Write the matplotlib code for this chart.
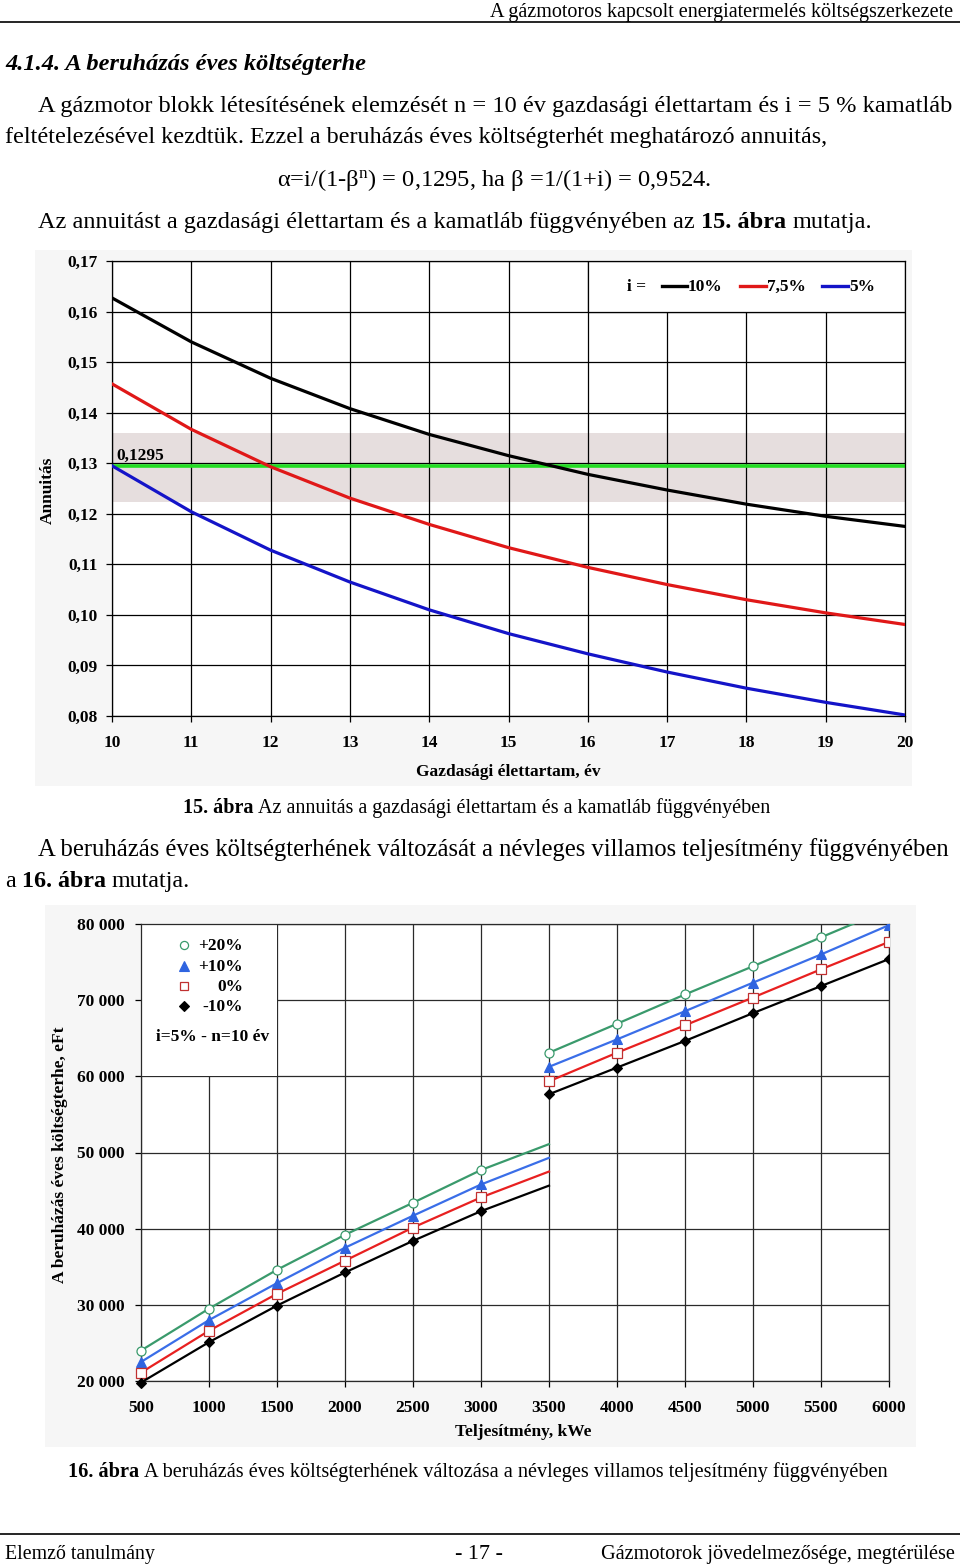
import matplotlib
matplotlib.use('Agg')
import matplotlib.pyplot as plt
from matplotlib.patches import Rectangle
from matplotlib.lines import Line2D

W, H = 960, 1565
SERIF = 'Liberation Serif'
plt.rcParams['font.family'] = [SERIF, 'DejaVu Serif']
plt.rcParams['mathtext.fontset'] = 'custom'
plt.rcParams['mathtext.rm'] = SERIF
plt.rcParams['mathtext.it'] = SERIF + ':italic'

# ---------------- data: chart 15 (annuity) ----------------
years = [10, 11, 12, 13, 14, 15, 16, 17, 18, 19, 20]
ann_10 = [0.1627, 0.1540, 0.1468, 0.1408, 0.1357, 0.1315, 0.1278, 0.1247, 0.1219, 0.1195, 0.1175]
ann_75 = [0.1457, 0.1367, 0.1293, 0.1231, 0.1179, 0.1133, 0.1094, 0.1060, 0.1030, 0.1004, 0.0981]
ann_5 = [0.1295, 0.1204, 0.1128, 0.1065, 0.1010, 0.0963, 0.0923, 0.0887, 0.0855, 0.0827, 0.0802]
ref_value = 0.1295
ref_label = '0,1295'
band_low, band_high = 0.1223, 0.1360
ann_yticks = [0.08, 0.09, 0.10, 0.11, 0.12, 0.13, 0.14, 0.15, 0.16, 0.17]
ann_yticklabels = ['0,08', '0,09', '0,10', '0,11', '0,12', '0,13', '0,14', '0,15', '0,16', '0,17']
legend1_title = 'i ='
legend1_labels = ['10%', '7,5%', '5%']

# ---------------- data: chart 16 (annual cost) ----------------
power_low = [500, 1000, 1500, 2000, 2500, 3000, 3500]
power_high = [3500, 4000, 4500, 5000, 5500, 6000]
p20_low = [24000, 29500, 34600, 39200, 43400, 47700, 51100]
p10_low = [22500, 28000, 32850, 37500, 41700, 45800, 49300]
p0_low = [21100, 26600, 31450, 35800, 40150, 44100, 47500]
m10_low = [19800, 25100, 29900, 34250, 38400, 42300, 45650]
p20_high = [63100, 66900, 70750, 74450, 78250, 82000]
p10_high = [61250, 64850, 68550, 72300, 76000, 79850]
p0_high = [59350, 63100, 66700, 70350, 74050, 77650]
m10_high = [57650, 61150, 64650, 68300, 71850, 75400]
cost_xticks = [500, 1000, 1500, 2000, 2500, 3000, 3500, 4000, 4500, 5000, 5500, 6000]
cost_yticks = [20000, 30000, 40000, 50000, 60000, 70000, 80000]
cost_yticklabels = ['20 000', '30 000', '40 000', '50 000', '60 000', '70 000', '80 000']
legend2_labels = ['+20%', '+10%', '0%', '-10%']
legend2_note = 'i=5% - n=10 év'

CH_FS = 12.5

fig = plt.figure(figsize=(W / 100, H / 100), dpi=100)
fig.patch.set_facecolor('white')
renderer = fig.canvas.get_renderer()


def rect(l, t, r, b):
    return [l / W, 1 - b / H, (r - l) / W, (b - t) / H]


def fx(x):
    return x / W


def fy(y):
    return 1 - y / H


def text_runs(x, y, runs, size=15, ha='left', width=None, style='normal'):
    arts = []
    for s, w in runs:
        arts.append(fig.text(0, fy(y), s, fontsize=size, fontweight=w, fontstyle=style,
                             va='baseline', ha='left'))

    def measure():
        ws = [a.get_window_extent(renderer).width for a in arts]
        sz = arts[0].get_fontsize()
        t1 = fig.text(0, 0, 'x x', fontsize=sz, fontweight=runs[0][1], fontstyle=style)
        t2 = fig.text(0, 0, 'xx', fontsize=sz, fontweight=runs[0][1], fontstyle=style)
        sp = t1.get_window_extent(renderer).width - t2.get_window_extent(renderer).width
        t1.remove(); t2.remove()
        return ws, sp

    ws, sp = measure()
    total = sum(ws) + sp * (len(arts) - 1)
    if width is not None:
        sc = width / total
        for a in arts:
            a.set_fontsize(a.get_fontsize() * sc)
        ws, sp = measure()
        total = sum(ws) + sp * (len(arts) - 1)
    if ha == 'center':
        x0 = x - total / 2
    elif ha == 'right':
        x0 = x - total
    else:
        x0 = x
    cur = x0
    for a, w in zip(arts, ws):
        a.set_x(fx(cur))
        cur += w + sp
    return arts


# ---------------- page text ----------------
text_runs(953, 17, [('A gázmotoros kapcsolt energiatermelés költségszerkezete', 'normal')], ha='right', width=466)
fig.add_artist(Line2D([0, 1], [fy(21.5), fy(21.5)], color='black', lw=1.2))
text_runs(5, 70, [('4.1.4. A beruházás éves költségterhe', 'bold')], width=362, style='italic')
text_runs(38, 112, [('A gázmotor blokk létesítésének elemzését n = 10 év gazdasági élettartam és i = 5 % kamatláb', 'normal')], width=915)
text_runs(5, 143, [('feltételezésével kezdtük. Ezzel a beruházás éves költségterhét meghatározó annuitás,', 'normal')], width=825)
text_runs(277, 186, [(r'α=i/(1-β$^{\rm n}$) = 0,1295, ha β =1/(1+i) = 0,9524.', 'normal')], width=435)
text_runs(38, 228, [('Az annuitást a gazdasági élettartam és a kamatláb függvényében az', 'normal'),
                    ('15. ábra', 'bold'), ('mutatja.', 'normal')], width=832)
text_runs(183, 813, [('15. ábra', 'bold'), ('Az annuitás a gazdasági élettartam és a kamatláb függvényében', 'normal')], width=593)
text_runs(38, 856, [('A beruházás éves költségterhének változását a névleges villamos teljesítmény függvényében', 'normal')], width=915)
text_runs(5, 887, [('a', 'normal'), ('16. ábra', 'bold'), ('mutatja.', 'normal')], width=185)
text_runs(68, 1477, [('16. ábra', 'bold'), ('A beruházás éves költségterhének változása a névleges villamos teljesítmény függvényében', 'normal')], width=822)
fig.add_artist(Line2D([0, 1], [fy(1534), fy(1534)], color='black', lw=1.2))
text_runs(5, 1559, [('Elemző tanulmány', 'normal')], width=150)
text_runs(479, 1559, [('- 17 -', 'normal')], ha='center', width=48)
text_runs(955, 1559, [('Gázmotorok jövedelmezősége, megtérülése', 'normal')], ha='right', width=355)

# chart background panels
fig.add_artist(Rectangle((fx(35), fy(786)), (912 - 35) / W, (786 - 250) / H, transform=fig.transFigure,
                         facecolor='#f6f6f6', edgecolor='none', zorder=0))
fig.add_artist(Rectangle((fx(45), fy(1447)), (916 - 45) / W, (1447 - 905) / H, transform=fig.transFigure,
                         facecolor='#f6f6f6', edgecolor='none', zorder=0))

# ---------------- chart 15 ----------------
ax1 = fig.add_axes(rect(112, 261, 905, 716))
ax1.set_facecolor('white')
ax1.set_xlim(years[0], years[-1])
ax1.set_ylim(ann_yticks[0], ann_yticks[-1])
ax1.set_xticks(years)
ax1.set_xticklabels([str(v) for v in years])
ax1.set_yticks(ann_yticks)
ax1.set_yticklabels(ann_yticklabels)
ax1.set_axisbelow(True)
ax1.grid(True, color='black', lw=0.9)
for sp in ax1.spines.values():
    sp.set_color('black'); sp.set_linewidth(0.9)
ax1.tick_params(axis='both', length=4, width=0.9, direction='out', labelsize=CH_FS)
ax1.tick_params(axis='x', pad=10)
ax1.tick_params(axis='y', pad=6)
for lab in ax1.get_xticklabels() + ax1.get_yticklabels():
    lab.set_fontweight('bold')
ax1.axhspan(band_low, band_high, facecolor='#e6dede', edgecolor='none', zorder=0.2)
ax1.axhline(ref_value, color='#22dd22', lw=2.6, zorder=2.5)
ax1.plot(years, ann_10, color='black', lw=2.3, zorder=3)
ax1.plot(years, ann_75, color='#e01818', lw=2.3, zorder=3)
ax1.plot(years, ann_5, color='#1414c8', lw=2.3, zorder=3)
ax1.text(10.06, 0.1306, ref_label, fontsize=CH_FS, fontweight='bold', va='baseline', ha='left', zorder=4)
ax1.add_patch(Rectangle((16, 0.16), 4, 0.01, facecolor='white', edgecolor='black', lw=0.9, zorder=2))
ax1.set_xlabel('Gazdasági élettartam, év', fontsize=CH_FS, fontweight='bold')
ax1.xaxis.set_label_coords(0.5, -0.105)
ax1.set_ylabel('Annuitás', fontsize=CH_FS, fontweight='bold')
ax1.yaxis.set_label_coords(-0.071, 0.495)

# legend chart 15 (figure pixel coords)
fig.text(fx(627), fy(291), legend1_title, fontsize=CH_FS, fontweight='bold', va='baseline', ha='left')
leg_cols = ['black', '#e01818', '#1414c8']
leg_lines = [(662, 687), (740, 766), (822, 848)]
for (a, b), c, lab in zip(leg_lines, leg_cols, legend1_labels):
    fig.add_artist(Line2D([fx(a), fx(b)], [fy(286), fy(286)], color=c, lw=2.4))
    fig.text(fx(b + 1), fy(291), lab, fontsize=CH_FS, fontweight='bold', va='baseline', ha='left')

# ---------------- chart 16 ----------------
ax2 = fig.add_axes(rect(141, 924, 889, 1381))
ax2.set_facecolor('white')
ax2.set_xlim(cost_xticks[0], cost_xticks[-1])
ax2.set_ylim(cost_yticks[0], cost_yticks[-1])
ax2.set_xticks(cost_xticks)
ax2.set_xticklabels([str(v) for v in cost_xticks])
ax2.set_yticks(cost_yticks)
ax2.set_yticklabels(cost_yticklabels)
ax2.set_axisbelow(True)
ax2.grid(True, color='#2a2a2a', lw=0.9)
for sp in ax2.spines.values():
    sp.set_color('#2a2a2a'); sp.set_linewidth(0.9)
ax2.tick_params(axis='both', length=4, width=0.9, direction='out', labelsize=CH_FS)
ax2.tick_params(axis='x', pad=10)
ax2.tick_params(axis='y', pad=8)
for lab in ax2.get_xticklabels() + ax2.get_yticklabels():
    lab.set_fontweight('bold')
ax2.add_patch(Rectangle((500, 60000), 1000, 20000, facecolor='white', edgecolor='none', zorder=1))

styles = [
    dict(color='#3a9a6c', marker='o', mfc='white', mec='#3a9a6c', ms=6.5, mew=0.9),
    dict(color='#3a6ee8', marker='^', mfc='#2f64e0', mec='#2f64e0', ms=7.5, mew=0.8),
    dict(color='#e82020', marker='s', mfc='white', mec='#c03030', ms=6.5, mew=0.9),
    dict(color='black', marker='D', mfc='black', mec='black', ms=5.5, mew=0.8),
]
lows = [p20_low, p10_low, p0_low, m10_low]
highs = [p20_high, p10_high, p0_high, m10_high]
for lo, hi, st in zip(lows, highs, styles):
    ax2.plot(power_low, lo, lw=1.6, markevery=slice(0, 6), zorder=3, clip_on=False, **st)
    ax2.plot(power_high, hi, lw=1.6, zorder=3, **st)
ax2.set_xlabel('Teljesítmény, kWe', fontsize=CH_FS, fontweight='bold')
ax2.xaxis.set_label_coords(0.511, -0.094)
ax2.set_ylabel('A beruházás éves költségterhe, eFt', fontsize=CH_FS, fontweight='bold')
ax2.yaxis.set_label_coords(-0.097, 0.495)

# legend chart 16
leg_y = [945, 966, 986, 1006]
for yy, st, lab in zip(leg_y, styles, legend2_labels):
    fig.add_artist(Line2D([fx(184)], [fy(yy)], linestyle='none', marker=st['marker'], mfc=st['mfc'],
                          mec=st['mec'], ms=st['ms'] * 0.9, mew=st['mew']))
    fig.text(fx(243), fy(yy + 5), lab, fontsize=CH_FS, fontweight='bold', va='baseline', ha='right')
fig.text(fx(213), fy(1041), legend2_note, fontsize=CH_FS, fontweight='bold', va='baseline', ha='center')

fig.savefig('out.png', dpi=100)
